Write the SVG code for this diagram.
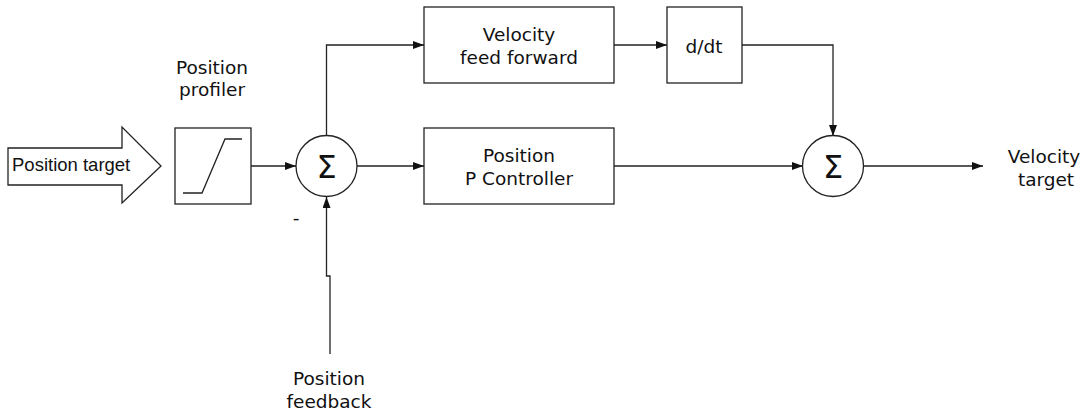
<svg xmlns="http://www.w3.org/2000/svg" width="1090" height="415" viewBox="0 0 1090 415">
<style>
.box{fill:#fff;stroke:#222;stroke-width:1.3}
.ln{fill:none;stroke:#222;stroke-width:1.3}
.t{font-family:"DejaVu Sans",Verdana,sans-serif;font-size:18.5px;fill:#111;text-anchor:middle}
.s{font-family:"DejaVu Sans",sans-serif;font-size:32px;fill:#111;text-anchor:middle}
</style>
<defs>
<marker id="ah" markerWidth="11" markerHeight="8" refX="11" refY="4" orient="auto" markerUnits="userSpaceOnUse">
<path d="M0,0 L11,4 L0,8 Z" fill="#111"/>
</marker>
</defs>
<rect width="1090" height="415" fill="#fff"/>
<g id="connectors">
<path class="ln" d="M251,166 H296" marker-end="url(#ah)"/>
<path class="ln" d="M326.5,136 V45 H424" marker-end="url(#ah)"/>
<path class="ln" d="M357,166 H424" marker-end="url(#ah)"/>
<path class="ln" d="M614,45 H667" marker-end="url(#ah)"/>
<path class="ln" d="M742,45 H833 V136" marker-end="url(#ah)"/>
<path class="ln" d="M614,166 H803" marker-end="url(#ah)"/>
<path class="ln" d="M863,166 H983" marker-end="url(#ah)"/>
<path class="ln" d="M330,354 V276 H326.5 V197" marker-end="url(#ah)"/>
</g>
<g id="position-target">
<path class="box" d="M8,148 H122 V127 L161,166 L122,203 V185 H8 Z"/>
<text x="12" y="171" style="font-family:'Liberation Sans',Arial,sans-serif;font-size:18.5px;fill:#111">Position target</text>
</g>
<g id="position-profiler">
<text class="t" x="212" y="74">Position</text>
<text class="t" x="212" y="96">profiler</text>
<rect class="box" x="175" y="128" width="76" height="76"/>
<path class="ln" d="M183,193 H202 L225,139 H242"/>
</g>
<g id="sum1">
<circle class="box" cx="326.5" cy="166" r="30.5"/>
<text class="s" x="326.5" y="178">Σ</text>
<text class="t" x="296" y="224">-</text>
</g>
<g id="velocity-ff">
<rect class="box" x="424" y="7" width="190" height="76"/>
<text class="t" x="519" y="41">Velocity</text>
<text class="t" x="519" y="64">feed forward</text>
</g>
<g id="ddt">
<rect class="box" x="667" y="7" width="75" height="76"/>
<text class="t" x="704" y="53">d/dt</text>
</g>
<g id="p-controller">
<rect class="box" x="424" y="128" width="190" height="76"/>
<text class="t" x="519" y="162">Position</text>
<text class="t" x="519" y="185">P Controller</text>
</g>
<g id="sum2">
<circle class="box" cx="833" cy="166" r="30.5"/>
<text class="s" x="833" y="178">Σ</text>
</g>
<g id="velocity-target">
<text class="t" x="1044" y="163">Velocity</text>
<text class="t" x="1046" y="186">target</text>
</g>
<g id="position-feedback">
<text class="t" x="329" y="385">Position</text>
<text class="t" x="329" y="408">feedback</text>
</g>
</svg>
